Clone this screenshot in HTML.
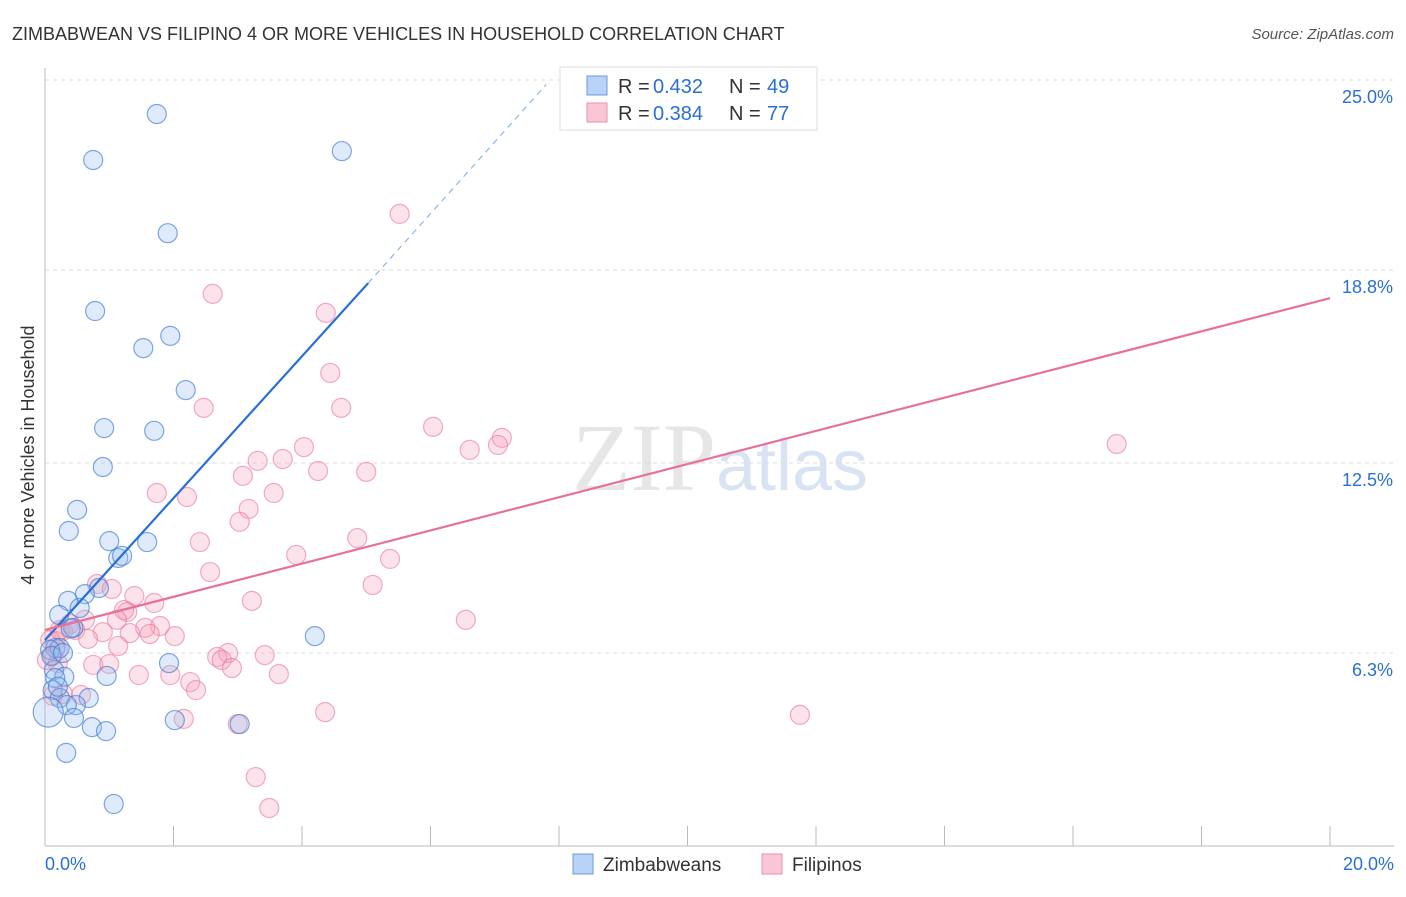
<!DOCTYPE html>
<html><head><meta charset="utf-8"><style>
body{margin:0;background:#fff;font-family:"Liberation Sans",sans-serif;}
</style></head><body>
<svg id="chart" width="1406" height="892" xmlns="http://www.w3.org/2000/svg">
<text x="12" y="40" font-size="18" fill="#333">ZIMBABWEAN VS FILIPINO 4 OR MORE VEHICLES IN HOUSEHOLD CORRELATION CHART</text>
<text x="1394" y="39" font-size="15" fill="#555" font-style="italic" text-anchor="end">Source: ZipAtlas.com</text>
<text x="720" y="490" font-size="96" fill="#e6e6e6" font-family="Liberation Serif,serif" text-anchor="middle">ZIP<tspan fill="#d8e4f4" font-family="Liberation Sans,sans-serif" font-size="72">atlas</tspan></text>
<text transform="translate(34,455) rotate(-90)" font-size="18" fill="#333" text-anchor="middle">4 or more Vehicles in Household</text>
<g id="grid"></g><g id="axes"></g><g id="marks"></g><g id="lines"></g>
<g>
<rect x="560" y="67" width="257" height="63" fill="#fff" stroke="#ddd"/>
<rect x="587" y="76" width="20" height="19" fill="#b8d3f5" stroke="#6a9be0"/>
<rect x="587" y="103" width="20" height="19" fill="#f9c6d6" stroke="#ec90ac"/>
<text x="618" y="93" font-size="20" fill="#333">R =</text>
<text x="653" y="93" font-size="20" fill="#2a6fd6">0.432</text>
<text x="729" y="93" font-size="20" fill="#333">N =</text>
<text x="767" y="93" font-size="20" fill="#2a6fd6">49</text>
<text x="618" y="120" font-size="20" fill="#333">R =</text>
<text x="653" y="120" font-size="20" fill="#2a6fd6">0.384</text>
<text x="729" y="120" font-size="20" fill="#333">N =</text>
<text x="767" y="120" font-size="20" fill="#2a6fd6">77</text>
</g>
<g>
<rect x="573" y="854" width="20" height="20" fill="#b8d3f5" stroke="#6a9be0"/>
<text x="603" y="871" font-size="19" fill="#333">Zimbabweans</text>
<rect x="762" y="854" width="20" height="20" fill="#f9c6d6" stroke="#ec90ac"/>
<text x="792" y="871" font-size="19" fill="#333">Filipinos</text>
</g>
</svg>
<script>
const yTicks=[25.0,18.8,12.5,6.3];
const yTickLabels=["25.0%","18.8%","12.5%","6.3%"];
const xTickLabels=["0.0%","20.0%"];
const blueX=[1.74,0.75,4.62,1.91,0.78,1.53,1.95,2.19,0.92,1.70,0.90,0.50,0.37,1.00,1.59,1.14,1.20,0.84,0.62,0.36,0.54,0.22,0.44,4.20,0.16,0.23,0.08,1.93,0.14,0.30,0.96,0.16,0.12,0.23,0.68,0.48,0.34,0.05,0.45,2.02,3.03,0.73,0.95,0.33,1.07,0.10,0.28,0.40,0.20];
const blueY=[23.89,22.39,22.68,20.0,17.46,16.25,16.65,14.88,13.64,13.55,12.37,10.97,10.28,9.95,9.92,9.40,9.47,8.42,8.22,8.00,7.77,7.54,7.12,6.85,6.46,6.46,6.40,5.97,5.74,5.52,5.55,5.48,5.09,4.83,4.83,4.60,4.60,4.37,4.18,4.11,3.98,3.88,3.75,3.04,1.37,6.20,6.30,7.10,5.20];
const pinkX=[5.52,2.61,4.37,4.44,4.61,2.47,6.04,7.11,4.03,7.05,6.61,3.31,3.70,4.25,5.00,3.08,1.74,2.21,3.56,3.17,3.03,4.86,2.41,3.91,5.37,2.57,5.10,0.81,1.04,3.22,1.39,1.70,1.28,1.23,6.55,0.62,1.12,0.39,1.79,1.56,0.90,1.32,0.47,0.28,2.02,1.63,0.67,1.14,0.16,0.12,3.42,2.85,2.68,2.75,0.20,0.75,1.00,2.91,1.46,1.95,3.64,2.26,2.35,0.28,0.56,0.12,4.36,11.75,2.16,3.00,3.28,3.49,16.68,0.08,0.20,0.03,0.23];
const pinkY=[20.63,18.02,17.40,15.44,14.30,14.30,13.68,13.32,13.02,13.09,12.93,12.57,12.63,12.24,12.21,12.08,11.52,11.39,11.52,11.00,10.58,10.05,9.92,9.50,9.37,8.94,8.52,8.55,8.39,8.00,8.16,7.93,7.64,7.70,7.38,7.38,7.38,7.25,7.18,7.12,6.98,6.95,7.05,7.02,6.85,6.92,6.76,6.53,6.69,6.23,6.23,6.30,6.17,6.07,5.97,5.91,5.94,5.81,5.58,5.58,5.61,5.35,5.09,4.96,4.93,4.90,4.37,4.28,4.15,3.98,2.25,1.24,13.12,6.72,6.40,6.07,7.05];
const blueTrend=[[0,6.72],[5.03,18.37],[7.8,24.85]];
const pinkTrend=[[0,7.05],[20,17.88]];
const NS="http://www.w3.org/2000/svg";
const X=v=>45+v/20*1285, Y=v=>846-v/25*766;
function mk(t,a,p){const e=document.createElementNS(NS,t);for(const k in a)e.setAttribute(k,a[k]);document.getElementById(p).appendChild(e);return e;}
yTicks.forEach((t,i)=>{
 const g=mk('line',{x1:45,x2:1394,y1:Y(t),y2:Y(t),stroke:'#ddd','stroke-dasharray':'4,4'},'grid');
 
 
 const l=mk('text',{x:1393,y:Y(t)+23,'font-size':18,fill:'#2a6fd6','text-anchor':'end'},'axes');
 l.textContent=yTickLabels[i];
 
 
});
let ax=mk('line',{x1:45,x2:1394,y1:846,y2:846,stroke:'#bbb'},'axes');


let ay=mk('line',{x1:45,x2:45,y1:68,y2:846,stroke:'#bbb'},'axes');


for(let i=0;i<=20;i+=2){
 const t=mk('line',{x1:X(i),x2:X(i),y1:826,y2:846,stroke:'#bbb'},'axes');
 
 
}
[[0,'start',45],[20,'end',1394]].forEach((d,i)=>{
 const l=mk('text',{x:d[2],y:870,'font-size':18,fill:'#2a6fd6','text-anchor':d[1]},'axes');
 l.textContent=xTickLabels[i];
 
 
});
pinkX.forEach((x,i)=>{
 const c=mk('circle',{cx:X(x),cy:Y(pinkY[i]),r:9.5,fill:'rgba(244,160,186,0.3)',stroke:'rgba(232,120,155,0.6)','stroke-width':1.2},'marks');
 
 
});
blueX.forEach((x,i)=>{
 const c=mk('circle',{cx:X(x),cy:Y(blueY[i]),r:i==37?15:9.5,fill:'rgba(150,190,240,0.3)',stroke:'rgba(60,120,210,0.65)','stroke-width':1.2},'marks');
 
 
});
let b1=mk('line',{x1:X(blueTrend[0][0]),y1:Y(blueTrend[0][1]),x2:X(blueTrend[1][0]),y2:Y(blueTrend[1][1]),stroke:'#2a6fd6','stroke-width':2.2},'lines');


let b2=mk('line',{x1:X(blueTrend[1][0]),y1:Y(blueTrend[1][1]),x2:X(blueTrend[2][0]),y2:Y(blueTrend[2][1]),stroke:'#8fb4ea','stroke-width':1.2,'stroke-dasharray':'6,5'},'lines');


let p1=mk('line',{x1:X(pinkTrend[0][0]),y1:Y(pinkTrend[0][1]),x2:X(pinkTrend[1][0]),y2:Y(pinkTrend[1][1]),stroke:'#e8709a','stroke-width':2.2},'lines');


</script>
</body></html>
